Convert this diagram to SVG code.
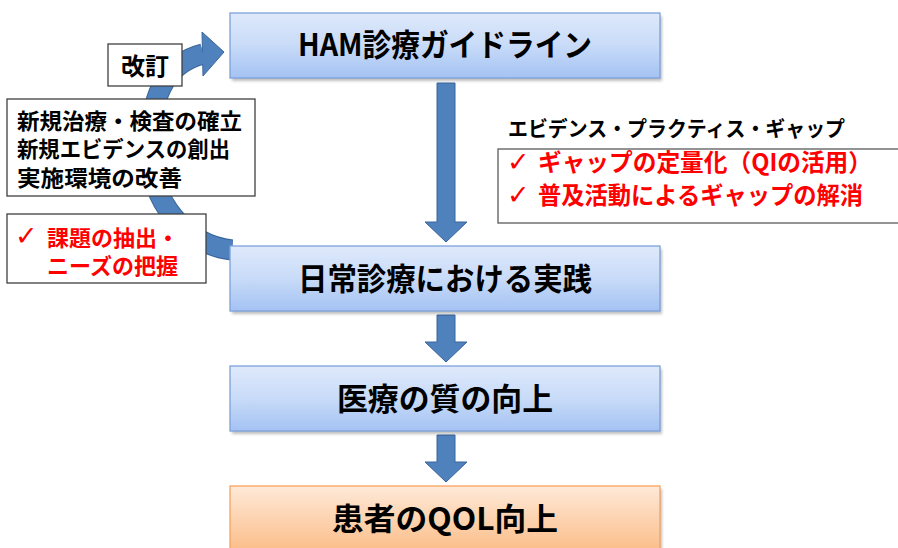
<svg xmlns="http://www.w3.org/2000/svg" width="898" height="548" viewBox="0 0 898 548">
<defs>
<linearGradient id="gBlue" x1="0" y1="0" x2="0" y2="1">
<stop offset="0" stop-color="#dfe9fb"/>
<stop offset="0.5" stop-color="#c8dbf8"/>
<stop offset="1" stop-color="#a4c2f3"/>
</linearGradient>
<linearGradient id="gOrange" x1="0" y1="0" x2="0" y2="1">
<stop offset="0" stop-color="#fee9d8"/>
<stop offset="1" stop-color="#fbbd88"/>
</linearGradient>
<filter id="sh" x="-5%" y="-20%" width="110%" height="140%">
<feGaussianBlur stdDeviation="1.5"/>
</filter>
<style>
.box{stroke:#7da2da;stroke-width:1.3}
.boxO{stroke:#f8a35f;stroke-width:1.3}
.shadow{fill:#000;opacity:0.25;filter:url(#sh)}
.title{font-family:"Noto Sans CJK JP","Liberation Sans",sans-serif;font-weight:700;font-size:31px;fill:#000;text-anchor:middle}
.lbl{font-family:"Noto Sans CJK JP","Liberation Sans",sans-serif;font-weight:700;fill:#000}
.red{fill:#ff0000}
.tbox{fill:#fff;stroke:#3f3f3f;stroke-width:1.3}
.arrow{fill:#4f81bd;stroke:#3a659a;stroke-width:1}
.chk{font-family:"DejaVu Sans",sans-serif;font-weight:400;fill:#ff0000}
</style>
</defs>
<rect width="898" height="548" fill="#fff"/>

<g id="connectors">
<g id="cycle-arrow">
<path d="M232,250 C185,245 150,200 150,150 C150,100 163,64 203,54" fill="none" stroke="#3a659a" stroke-width="21"/>
<polygon class="arrow" points="202,32 224,52 203,76"/>
<path d="M232,250 C185,245 150,200 150,150 C150,100 163,64 203,54" fill="none" stroke="#4f81bd" stroke-width="19"/>
</g>
<polygon id="arrow1" class="arrow" points="437,83 455,83 455,222 467,222 446,242 425,222 437,222"/>
<polygon id="arrow2" class="arrow" points="437,315 455,315 455,342 467,342 446,362 425,342 437,342"/>
<polygon id="arrow3" class="arrow" points="437,435 455,435 455,462 467,462 446,482 425,462 437,462"/>
</g>

<g id="revise">
<rect class="tbox" x="108" y="44" width="74" height="42"/>
<text class="lbl" x="145" y="75" font-size="24" text-anchor="middle">改訂</text>
</g>

<g id="new-items">
<rect class="tbox" x="7" y="99" width="248" height="97"/>
<text class="lbl" font-size="22"><tspan x="17" y="128.5" textLength="225" lengthAdjust="spacingAndGlyphs">新規治療・検査の確立</tspan><tspan x="17" y="156.5" textLength="213" lengthAdjust="spacingAndGlyphs">新規エビデンスの創出</tspan><tspan x="17" y="185.5" textLength="165" lengthAdjust="spacingAndGlyphs">実施環境の改善</tspan></text>
</g>

<g id="issues">
<rect class="tbox" x="7" y="214" width="199" height="69"/>
<text class="chk" x="15" y="245" font-size="27">✓</text>
<text class="lbl red" font-size="22"><tspan x="47" y="245.5">課題の抽出・</tspan><tspan x="47" y="273.5">ニーズの把握</tspan></text>
</g>

<g id="gap">
<text class="lbl" x="508" y="136" font-size="21" textLength="337" lengthAdjust="spacingAndGlyphs">エビデンス・プラクティス・ギャップ</text>
<rect class="tbox" x="498" y="149" width="410" height="74" style="stroke:#5a5a5a"/>
<text class="chk" x="507" y="171" font-size="27">✓</text>
<text class="chk" x="507" y="204" font-size="27">✓</text>
<text class="lbl red" font-size="24"><tspan x="538" y="171" textLength="334" lengthAdjust="spacingAndGlyphs">ギャップの定量化（QIの活用）</tspan><tspan x="538" y="204" textLength="325" lengthAdjust="spacingAndGlyphs">普及活動によるギャップの解消</tspan></text>
</g>

<g id="guideline">
<rect class="shadow" x="232" y="16" width="430" height="65"/>
<rect class="box" x="230" y="13" width="430" height="65" fill="url(#gBlue)"/>
<text class="title" x="445" y="56" textLength="294" lengthAdjust="spacingAndGlyphs">HAM診療ガイドライン</text>
</g>

<g id="practice">
<rect class="shadow" x="232" y="249" width="430" height="65"/>
<rect class="box" x="230" y="246" width="430" height="65" fill="url(#gBlue)"/>
<text class="title" x="445" y="290" textLength="294" lengthAdjust="spacingAndGlyphs">日常診療における実践</text>
</g>

<g id="quality">
<rect class="shadow" x="232" y="369" width="430" height="65"/>
<rect class="box" x="230" y="366" width="430" height="65" fill="url(#gBlue)"/>
<text class="title" x="445" y="410" textLength="216" lengthAdjust="spacingAndGlyphs">医療の質の向上</text>
</g>

<g id="qol">
<rect class="shadow" x="232" y="489" width="430" height="66"/>
<rect class="boxO" x="230" y="486" width="430" height="66" fill="url(#gOrange)"/>
<text class="title" x="445" y="530" textLength="226" lengthAdjust="spacingAndGlyphs">患者のQOL向上</text>
</g>
</svg>
